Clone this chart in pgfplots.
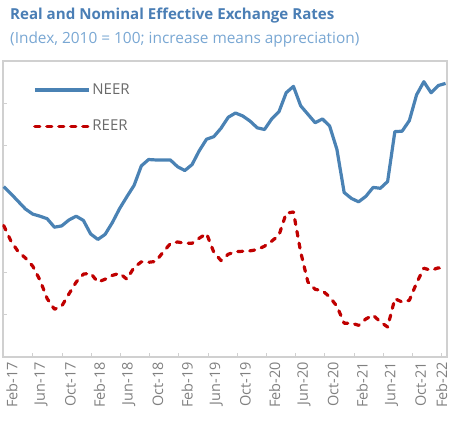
\documentclass[border=0pt]{standalone}
\usepackage{pgfplots}
\pgfplotsset{compat=1.18}
\usepackage{pgfplotstable}
\usepackage{fontspec}
\setmainfont{Open Sans}
\definecolor{titleblue}{HTML}{4A7EB5}
\definecolor{subblue}{HTML}{79A7D3}
\definecolor{neer}{HTML}{4A82B4}
\definecolor{reer}{HTML}{C00000}
\definecolor{axgray}{HTML}{D0D0D0}
\definecolor{txtgray}{HTML}{808080}
\definecolor{leggray}{HTML}{6A6A6A}

% month index 0 = Feb-17
\pgfplotstableread{
m neer reer
0 40.3 31.1
1 38.6 27.4
2 36.8 24.9
3 35.0 23.4
4 33.8 21.5
5 33.3 18.2
6 32.7 13.8
7 30.7 11.3
8 31.0 12.0
9 32.4 14.9
10 33.3 17.7
11 32.3 19.6
12 29.1 19.8
13 27.8 17.7
14 29.0 18.4
15 31.8 19.3
16 35.1 19.8
17 37.9 18.4
18 40.6 21.2
19 45.2 22.5
20 46.7 22.4
21 46.6 22.6
22 46.6 24.8
23 46.6 26.8
24 45.0 27.2
25 44.1 26.9
26 45.5 26.9
27 48.8 28.1
28 51.5 29.2
29 52.1 24.8
30 54.1 22.8
31 56.7 24.3
32 57.7 24.9
33 57.0 25.0
34 55.8 25.1
35 54.2 25.4
36 53.8 26.2
37 56.3 27.4
38 58.0 28.8
39 62.5 34.0
40 64.0 34.3
41 59.4 24.8
42 57.4 17.7
43 55.4 16.0
44 56.3 15.7
45 54.6 14.2
46 49.1 12.0
47 38.9 8.0
48 37.5 8.0
49 36.7 7.5
50 38.0 9.0
51 40.1 9.9
52 39.9 8.3
53 41.5 7.1
54 53.3 13.8
55 53.4 13.0
56 55.9 13.4
57 62.0 17.5
58 65.1 21.0
59 62.5 20.5
60 64.2 21.1
61 64.7 20.4
}\datatable

\begin{document}
\begin{tikzpicture}[x=1pt,y=1pt]
\path[use as bounding box] (0,0) rectangle (449,420);
\node[anchor=base west, inner sep=0pt, text=titleblue, font=\bfseries\fontsize{15.1}{18}\selectfont] at (10,400) {Real and Nominal Effective Exchange Rates};
\node[anchor=base west, inner sep=0pt, text=subblue, font=\fontsize{15.4}{18}\selectfont] at (10,376) {(Index, 2010 = 100; increase means appreciation)};
\begin{axis}[
  at={(3pt,63pt)}, anchor=south west,
  width=444pt, height=296pt, scale only axis,
  xmin=-0.1, xmax=61.2, ymin=0, ymax=70,
  axis line style={draw=axgray, line width=1.2pt},
  tick align=inside,
  xtick pos=left, ytick pos=left,
  major tick length=4pt,
  every tick/.style={draw=axgray, line width=1pt},
  ytick={10,20,30,40,50,60}, yticklabels={},
  xtick={4.03,8.06,12.09,16.12,20.15,24.18,28.21,32.24,36.27,40.3,44.33,48.36,52.39,56.42,60.45},
  xticklabels={},
  extra x ticks={1.14,5.17,9.2,13.23,17.26,21.29,25.32,29.35,33.38,37.41,41.44,45.47,49.5,53.53,57.56,60.45},
  extra x tick labels={Feb-17,Jun-17,Oct-17,Feb-18,Jun-18,Oct-18,Feb-19,Jun-19,Oct-19,Feb-20,Jun-20,Oct-20,Feb-21,Jun-21,Oct-21,Feb-22},
  extra x tick style={major tick length=0pt, tick style={draw=none}},
  x tick label style={rotate=90, anchor=east, inner sep=0pt, text=txtgray, font=\fontsize{14.5}{16}\selectfont},
  xticklabel shift=5pt,
  clip=false,
  legend style={at={(0.0676,0.93)}, anchor=north west, draw=none, fill=none,
    font=\fontsize{15}{18}\selectfont, text=leggray, row sep=20pt, inner sep=0pt,
    nodes={inner sep=2pt}},
  legend cell align=left,
  legend image code/.code={\draw[#1] (0pt,0pt) -- (54pt,0pt);},
]
\addplot[neer, line width=3.2pt, line join=round] table[x=m, y=neer] {\datatable};
\addlegendentry{NEER}
\addplot[reer, line width=3.2pt, line join=round, line cap=round, dash pattern=on 5pt off 7pt] table[x=m, y=reer] {\datatable};
\addlegendentry{REER}
\end{axis}
\end{tikzpicture}
\end{document}
